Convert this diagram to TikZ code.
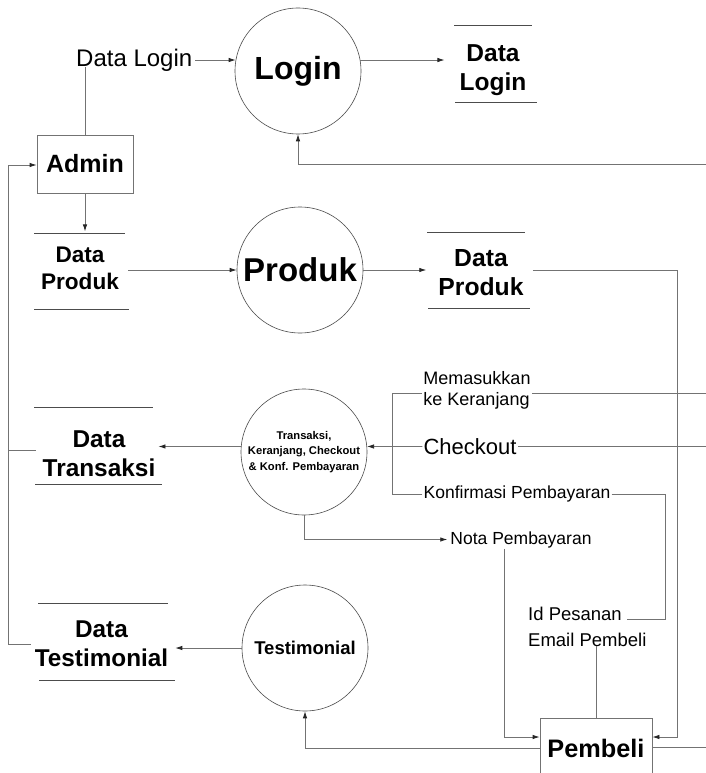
\documentclass[tikz,border=0pt]{standalone}
\usepackage{fontspec}
\setmainfont{Liberation Sans}
\usetikzlibrary{arrows.meta,calc}
\newcommand\fsz[2]{\fontsize{#1pt}{#2pt}\selectfont}
\begin{document}
\begin{tikzpicture}[x=1pt,y=-1pt,
  conn/.style={draw=black!55, line width=0.8pt},
  arr/.style={conn, -{Latex[length=7pt,width=4.5pt,color=black!85]}},
  proc/.style={circle, draw=black!70, line width=0.6pt, minimum size=126pt, inner sep=0pt, align=center},
  storeline/.style={draw=black!70, line width=0.9pt},
  storetxt/.style={align=center, inner sep=0pt},
  lbl/.style={inner sep=1pt},
  entity/.style={draw=black!55, line width=0.8pt}
]
\useasboundingbox (0,0) rectangle (706,773);
\fill[white] (0,0) rectangle (706,773);

% processes
\node[proc, font=\fsz{32}{36}\bfseries] (login) at (298,71) {Login};
\node[proc, font=\fsz{33}{36}\bfseries] (produk) at (300,270) {Produk};
\node[proc, font=\fsz{11.2}{15.5}\bfseries] (trans) at (304,452) {Transaksi,\\Keranjang, Checkout\\\& Konf. Pembayaran};
\node[proc, font=\fsz{18.5}{20}\bfseries] (testi) at (305,648) {Testimonial};

% entities
\node[entity, minimum width=96pt, minimum height=58pt, font=\fsz{25}{28}\bfseries] (admin) at (85,164) {Admin};
\node[entity, anchor=north, minimum width=112pt, text height=18.5pt, text depth=40pt, inner ysep=20.5pt, font=\fsz{25.3}{28}\bfseries] (pembeli) at (596,718) {Pembeli};

% data stores
\node[storetxt, font=\fsz{22.6}{27}\bfseries] (dpl) at (80,268.5) {Data\\Produk};
\draw[storeline] (34,233) -- (125,233);
\draw[storeline] (34,309) -- (129,309);

\node[storetxt, font=\fsz{24.5}{29}\bfseries] (dlr) at (493,70) {Data\\Login};
\draw[storeline] (454,25) -- (532,25);
\draw[storeline] (455,102) -- (537,102);

\node[storetxt, font=\fsz{24.7}{29}\bfseries] (dpr) at (481,273) {Data\\Produk};
\draw[storeline] (427,232) -- (525,232);
\draw[storeline] (428,308) -- (530,308);

\node[storetxt, font=\fsz{24.4}{29}\bfseries] (dtr) at (99,454) {Data\\Transaksi};
\draw[storeline] (34,407) -- (153,407);
\draw[storeline] (35,484) -- (162,484);

\node[storetxt, font=\fsz{24.3}{29}\bfseries] (dte) at (101.5,644) {Data\\Testimonial};
\draw[storeline] (38,603) -- (168,603);
\draw[storeline] (39,680) -- (175,680);

% labels
\node[anchor=base west, inner sep=0pt, font=\fsz{24}{26}] (dlogin) at (76,67) {Data Login};
\node[lbl, font=\fsz{22}{24}] (chk) at (470,446.5) {Checkout};
\node[lbl, align=left, font=\fsz{18}{20.5}] (mk) at (477,390.5) {Memasukkan\\ke Keranjang};
\node[lbl, font=\fsz{17.5}{20}] (konf) at (517,494) {Konfirmasi Pembayaran};
\node[lbl, font=\fsz{17.5}{20}] (nota) at (521,539.5) {Nota Pembayaran};
\node[anchor=base west, inner sep=0pt, font=\fsz{18.5}{20}] (idp1) at (528,620) {Id Pesanan};
\node[anchor=base west, inner sep=0pt, font=\fsz{18.5}{20}] (idp2) at (528,646) {Email Pembeli};

% free ends at the right border and bend points
\coordinate (eLogin) at (706,164);
\coordinate (eMk) at (706,393);
\coordinate (eChk) at (706,446.5);
\coordinate (ePb) at (706,747);
\coordinate (ladm) at (8,165);
\coordinate (pr) at (677,737);
\coordinate (kc) at (665,619);
\coordinate (kl) at (392,393);
\coordinate (dtrL) at ([xshift=-7pt,yshift=4pt]dtr.west);

% connectors: admin / login
\draw[conn] (admin.north) -- (admin.north |- dlogin.base);
\draw[arr] ([xshift=3pt]dlogin.east |- login.170) -- (login.170);
\draw[arr] (login.10) -- ([xshift=-15pt]dlr.west |- login.10);
\draw[arr] (eLogin) -| (login.south);

% produk
\draw[arr] (admin.south) -- ++(0,38);
\draw[arr] ([xshift=9pt]dpl.east |- produk.west) -- (produk.west);
\draw[arr] (produk.east) -- ([xshift=-12pt]dpr.west |- produk.east);
\draw[arr] ([xshift=9pt]dpr.east |- produk.east) -| (pr) -- (pembeli.east |- pr);

% left return line
\draw[arr] ([xshift=-4pt]dte.west) -| (ladm) -- (admin.west |- ladm);
\draw[conn] (dtrL) -- (ladm |- dtrL);

% transaksi
\draw[arr] (trans.175) -- ([xshift=3pt]dtr.east |- trans.175);
\draw[conn] (eChk) -- (chk.east);
\draw[arr] (chk.west) -- (trans.5);
\draw[conn] (eMk) -- (mk.east |- eMk);
\draw[conn] (konf.west) -| (kl) -- (mk.west |- kl);
\draw[conn] (konf.east) -| (kc) -- ([xshift=5pt]idp1.base east |- kc);
\draw[arr] (trans.south) |- ([xshift=-2pt]nota.west);
\draw[arr] ([xshift=-17pt]nota.south) |- ([yshift=-19pt]pembeli.north west);
\draw[conn] (pembeli.north) -- (pembeli.north |- idp2.south);

% testimonial
\draw[arr] (testi.west) -- ([xshift=7pt]dte.east |- testi.west);
\draw[arr] ([yshift=-30pt]pembeli.north west) -| (testi.south);
\draw[conn] ([yshift=-29pt]pembeli.north east) -- (ePb);
\end{tikzpicture}
\end{document}
